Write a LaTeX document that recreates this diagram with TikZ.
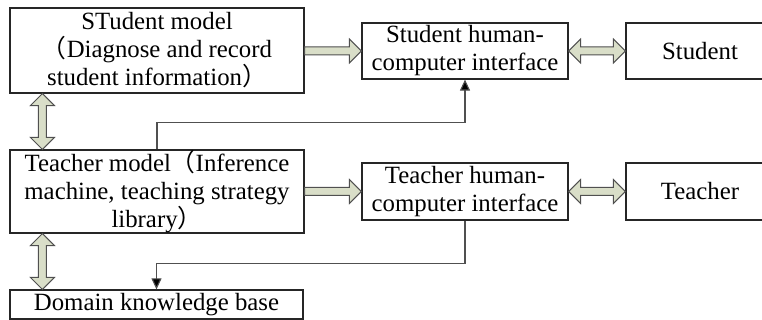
\documentclass[tikz,border=0pt]{standalone}
\usepackage{fontspec}
\setmainfont{Liberation Serif}
\newfontfamily\cjk{Noto Sans CJK SC}
\usepackage{tikz}
\usetikzlibrary{calc,arrows.meta}
\definecolor{arrowfill}{HTML}{D9DEC8}
\definecolor{arrowedge}{HTML}{505050}
\newcommand{\lp}{{\cjk （}}
\newcommand{\rp}{{\cjk ）}}
\tikzset{%
  block/.style  = {shape=rectangle, draw=black!85, line width=0.6pt,%
                   align=center, inner sep=0pt,%
                   font=\fontsize{12.4}{14}\selectfont},%
  fatone/.style = {draw=arrowedge, fill=arrowfill, line width=0.5pt,%
                   to path={($(\tikztostart)!2pt!90:(\tikztotarget)$)%
                     -- ($(\tikztotarget)!6pt!(\tikztostart)!2pt!-90:(\tikztostart)$)%
                     -- ($(\tikztotarget)!6pt!(\tikztostart)!6pt!-90:(\tikztostart)$)%
                     -- (\tikztotarget)%
                     -- ($(\tikztotarget)!6pt!(\tikztostart)!6pt!90:(\tikztostart)$)%
                     -- ($(\tikztotarget)!6pt!(\tikztostart)!2pt!90:(\tikztostart)$)%
                     -- ($(\tikztostart)!2pt!-90:(\tikztotarget)$) -- cycle}},%
  fattwo/.style = {draw=arrowedge, fill=arrowfill, line width=0.5pt,%
                   to path={(\tikztostart)%
                     -- ($(\tikztostart)!6pt!(\tikztotarget)!6pt!90:(\tikztotarget)$)%
                     -- ($(\tikztostart)!6pt!(\tikztotarget)!2pt!90:(\tikztotarget)$)%
                     -- ($(\tikztotarget)!6pt!(\tikztostart)!2pt!-90:(\tikztostart)$)%
                     -- ($(\tikztotarget)!6pt!(\tikztostart)!6pt!-90:(\tikztostart)$)%
                     -- (\tikztotarget)%
                     -- ($(\tikztotarget)!6pt!(\tikztostart)!6pt!90:(\tikztostart)$)%
                     -- ($(\tikztotarget)!6pt!(\tikztostart)!2pt!90:(\tikztostart)$)%
                     -- ($(\tikztostart)!6pt!(\tikztotarget)!2pt!-90:(\tikztotarget)$)%
                     -- ($(\tikztostart)!6pt!(\tikztotarget)!6pt!-90:(\tikztotarget)$)%
                     -- cycle}},%
  link/.style   = {draw=arrowedge, line width=0.55pt,%
                   -{Triangle[length=5.5pt,width=5pt,fill=black]}}%
}
\begin{document}
\begin{tikzpicture}[x=0.5pt, y=-0.5pt]
  \useasboundingbox (0,0) rectangle (762,320);
  % ---------------- models on the left ----------------
  \node [block, minimum width=147pt, minimum height=42.5pt] (sm) at (157,50.5)
    {STudent model\\ \lp Diagnose and record\\ student information\rp};
  \node [block, minimum width=147pt, minimum height=41.5pt] (tm) at (157,191.5)
    {Teacher model\lp Inference\\ machine, teaching strategy\\ library\rp};
  \node [block, minimum width=146.5pt, minimum height=14.5pt] (dk) at (156.5,304.5)
    {Domain knowledge base};
  % ---------------- interfaces and users ----------------
  \node [block, minimum width=103pt, minimum height=28pt] (shci) at (465,51)
    {Student human-\\ computer interface};
  \node [block, minimum width=103pt, minimum height=28.5pt] (thci) at (465,191.5)
    {Teacher human-\\ computer interface};
  \node [block, minimum width=74pt, minimum height=28pt] (stu) at (700,51) {Student};
  \node [block, minimum width=74pt, minimum height=28.5pt] (tea) at (700,191.5) {Teacher};
  % ---------------- fat arrows ----------------
  \path [fatone] (shci.west -| sm.east) to (shci.west);
  \path [fatone] (thci.west -| tm.east) to (thci.west);
  \path [fattwo] (shci.east) to (stu.west);
  \path [fattwo] (thci.east) to (tea.west);
  \path [fattwo] ($(sm.south west)+(33,0)$) to ($(tm.north west)+(33,0)$);
  \path [fattwo] ($(tm.south west)+(33,0)$) to ($(dk.north west)+(33,0)$);
  % ---------------- thin links ----------------
  \draw [link] (tm.north) -- ++(0,-27) -| (shci.south);
  \draw [link] (thci.south) -- ++(0,43) -| (dk.north);
\end{tikzpicture}
\end{document}
